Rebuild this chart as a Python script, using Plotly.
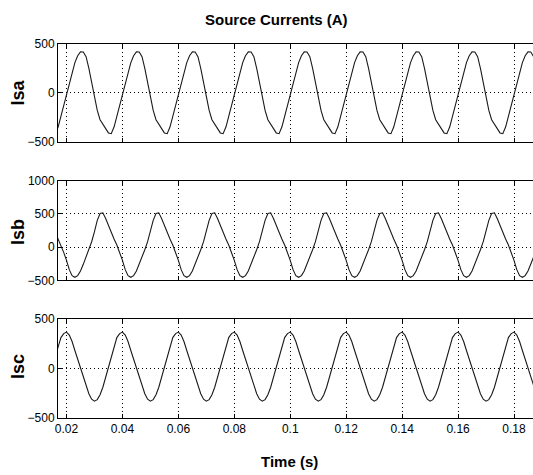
import plotly.graph_objects as go

# Sampling times (ms) of the traces, 1 ms apart
time_ms = list(range(16, 188))
time_s = [m / 1000 for m in time_ms]

isa = [
    -418, -350, -240, -130,
    -20, 110, 220, 310, 380, 420, 418, 370, 250, 100, -40, -180, -275, -320, -370, -410, -418, -350, -240, -130,
    -20, 110, 220, 310, 380, 420, 418, 370, 250, 100, -40, -180, -275, -320, -370, -410, -418, -350, -240, -130,
    -20, 110, 220, 310, 380, 420, 418, 370, 250, 100, -40, -180, -275, -320, -370, -410, -418, -350, -240, -130,
    -20, 110, 220, 310, 380, 420, 418, 370, 250, 100, -40, -180, -275, -320, -370, -410, -418, -350, -240, -130,
    -20, 110, 220, 310, 380, 420, 418, 370, 250, 100, -40, -180, -275, -320, -370, -410, -418, -350, -240, -130,
    -20, 110, 220, 310, 380, 420, 418, 370, 250, 100, -40, -180, -275, -320, -370, -410, -418, -350, -240, -130,
    -20, 110, 220, 310, 380, 420, 418, 370, 250, 100, -40, -180, -275, -320, -370, -410, -418, -350, -240, -130,
    -20, 110, 220, 310, 380, 420, 418, 370, 250, 100, -40, -180, -275, -320, -370, -410, -418, -350, -240, -130,
    -20, 110, 220, 310, 380, 420, 418, 370,
]

isb = [
    220, 120, 30, -80,
    -200, -340, -430, -455, -430, -360, -260, -150, -40, 80, 230, 400, 505, 515, 430, 320, 220, 120, 30, -80,
    -200, -340, -430, -455, -430, -360, -260, -150, -40, 80, 230, 400, 505, 515, 430, 320, 220, 120, 30, -80,
    -200, -340, -430, -455, -430, -360, -260, -150, -40, 80, 230, 400, 505, 515, 430, 320, 220, 120, 30, -80,
    -200, -340, -430, -455, -430, -360, -260, -150, -40, 80, 230, 400, 505, 515, 430, 320, 220, 120, 30, -80,
    -200, -340, -430, -455, -430, -360, -260, -150, -40, 80, 230, 400, 505, 515, 430, 320, 220, 120, 30, -80,
    -200, -340, -430, -455, -430, -360, -260, -150, -40, 80, 230, 400, 505, 515, 430, 320, 220, 120, 30, -80,
    -200, -340, -430, -455, -430, -360, -260, -150, -40, 80, 230, 400, 505, 515, 430, 320, 220, 120, 30, -80,
    -200, -340, -430, -455, -430, -360, -260, -150, -40, 80, 230, 400, 505, 515, 430, 320, 220, 120, 30, -80,
    -200, -340, -430, -455, -430, -360, -260, -150,
]

isc = [
    120, 230, 310, 350,
    365, 335, 270, 180, 95, 20, -70, -170, -255, -310, -330, -315, -265, -190, -90, 10, 120, 230, 310, 350,
    365, 335, 270, 180, 95, 20, -70, -170, -255, -310, -330, -315, -265, -190, -90, 10, 120, 230, 310, 350,
    365, 335, 270, 180, 95, 20, -70, -170, -255, -310, -330, -315, -265, -190, -90, 10, 120, 230, 310, 350,
    365, 335, 270, 180, 95, 20, -70, -170, -255, -310, -330, -315, -265, -190, -90, 10, 120, 230, 310, 350,
    365, 335, 270, 180, 95, 20, -70, -170, -255, -310, -330, -315, -265, -190, -90, 10, 120, 230, 310, 350,
    365, 335, 270, 180, 95, 20, -70, -170, -255, -310, -330, -315, -265, -190, -90, 10, 120, 230, 310, 350,
    365, 335, 270, 180, 95, 20, -70, -170, -255, -310, -330, -315, -265, -190, -90, 10, 120, 230, 310, 350,
    365, 335, 270, 180, 95, 20, -70, -170, -255, -310, -330, -315, -265, -190, -90, 10, 120, 230, 310, 350,
    365, 335, 270, 180, 95, 20, -70, -170,
]

x_ticks = [0.02, 0.04, 0.06, 0.08, 0.1, 0.12, 0.14, 0.16, 0.18]
x_ticklabels = ["0.02", "0.04", "0.06", "0.08", "0.1", "0.12", "0.14", "0.16", "0.18"]
y_ticks_a = [-500, 0, 500]
y_ticks_b = [-500, 0, 500, 1000]
y_ticks_c = [-500, 0, 500]
panel_names = ["Isa", "Isb", "Isc"]

W, H = 533, 475
ML, MR, MT, MB = 58, 0, 44, 57
plot_h = H - MT - MB
plot_w = W - ML - MR

def dom(top_px, bot_px):
    return [(H - MB - bot_px) / plot_h, (H - MB - top_px) / plot_h]

FONT = "Liberation Sans, Arial, sans-serif"

fig = go.Figure()
series = [isa, isb, isc]
for i, ys in enumerate(series):
    suffix = "" if i == 0 else str(i + 1)
    fig.add_trace(go.Scatter(
        x=time_s, y=ys, mode="lines",
        line=dict(color="#1a1a1a", width=1.1),
        xaxis="x" + suffix, yaxis="y" + suffix,
        showlegend=False, hoverinfo="skip",
    ))

xrange = [0.016961, 0.186793]
domains = [dom(44, 141.7), dom(180.5, 280.3), dom(318.7, H - MB)]
yticks = [y_ticks_a, y_ticks_b, y_ticks_c]
yranges = [[-500, 500], [-500, 1000], [-500, 500]]

common_x = dict(
    range=xrange, tickvals=x_ticks, ticktext=x_ticklabels,
    ticks="inside", ticklen=4, tickcolor="black", tickwidth=1,
    showline=True, linecolor="black", linewidth=1, mirror="allticks",
    showgrid=True, gridcolor="black", gridwidth=1, griddash="1px,3px",
    zeroline=False, tickfont=dict(family=FONT, size=12, color="black"),
)
common_y = dict(
    ticks="inside", ticklen=4, tickcolor="black", tickwidth=1,
    showline=True, linecolor="black", linewidth=1, mirror=False,
    showgrid=True, gridcolor="black", gridwidth=1, griddash="1px,3px",
    zeroline=False, tickfont=dict(family=FONT, size=12, color="black"),
)

layout = dict(
    width=W, height=H,
    margin=dict(l=ML, r=MR, t=MT, b=MB),
    paper_bgcolor="white", plot_bgcolor="white",
    showlegend=False,
)
for i in range(3):
    suffix = "" if i == 0 else str(i + 1)
    xa = dict(common_x, domain=[0, 1], anchor="y" + suffix,
              showticklabels=(i == 2))
    if i > 0:
        xa["matches"] = "x"
    ya = dict(common_y, domain=domains[i], anchor="x" + suffix,
              range=yranges[i], tickvals=yticks[i])
    layout["xaxis" + suffix] = xa
    layout["yaxis" + suffix] = ya
fig.update_layout(**layout)

ann = [
    dict(text="<b>Source Currents (A)</b>", x=(276 - ML) / plot_w, y=(H - MB - 20) / plot_h,
         xref="paper", yref="paper", showarrow=False, xanchor="center", yanchor="middle",
         font=dict(family=FONT, size=15, color="black")),
    dict(text="<b>Time (s)</b>", x=(289 - ML) / plot_w, y=(H - MB - 461) / plot_h,
         xref="paper", yref="paper", showarrow=False, xanchor="center", yanchor="middle",
         font=dict(family=FONT, size=15, color="black")),
]
label_y = [92.5, 232, 367]
for name, cy in zip(panel_names, label_y):
    ann.append(dict(text="<b>%s</b>" % name, x=(18 - ML) / plot_w, y=(H - MB - cy) / plot_h,
                    xref="paper", yref="paper", showarrow=False, textangle=-90,
                    xanchor="center", yanchor="middle",
                    font=dict(family=FONT, size=18, color="black")))
fig.update_layout(annotations=ann)

fig.write_html(
    "out.html",
    config={"displayModeBar": False},
    post_script="document.body.style.margin='0';document.body.style.padding='0';",
)
